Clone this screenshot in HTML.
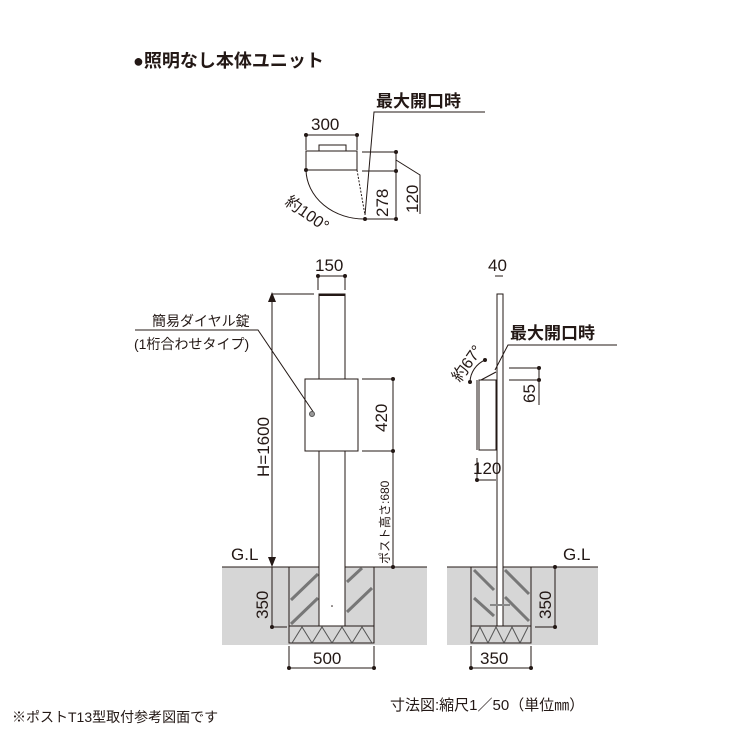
<!DOCTYPE html>
<html><head><meta charset="utf-8"><style>
html,body{margin:0;padding:0;background:#fff;}
svg{display:block;}
text{font-family:"Liberation Sans","Noto Sans CJK JP",sans-serif;fill:#231815;}
</style></head><body>
<svg width="750" height="750" viewBox="0 0 750 750" xmlns="http://www.w3.org/2000/svg">
<text x="133" y="67" font-size="18" font-weight="bold">●照明なし本体ユニット</text>

<!-- top diagram -->
<g stroke="#231815" fill="none" stroke-width="1">
<rect x="306" y="151" width="51" height="19" fill="#fff"/>
<rect x="319" y="145" width="27" height="6"/>
<line x1="306" y1="135" x2="357" y2="135"/>
<line x1="306" y1="135" x2="306" y2="150"/>
<line x1="357" y1="135" x2="357" y2="150"/>
<path d="M306 170 A58 50 0 0 0 365 219"/>
<line x1="357" y1="170" x2="365" y2="215" stroke-dasharray="2,1.5"/>
<line x1="362" y1="152" x2="396" y2="152"/>
<line x1="362" y1="171" x2="396" y2="171"/>
<line x1="365" y1="219" x2="396" y2="219"/>
<line x1="396" y1="152" x2="396" y2="219"/>
<polyline points="396,160 420,175 420,214"/>
<polyline points="485,112 374,112 365,215"/>
</g>
<g fill="#231815">
<circle cx="306" cy="135" r="2"/><circle cx="357" cy="135" r="2"/>
<circle cx="306" cy="170" r="2"/><circle cx="365" cy="219" r="2"/>
<circle cx="396" cy="152" r="2"/><circle cx="396" cy="171" r="2"/><circle cx="396" cy="219" r="2"/>
</g>
<text x="311" y="130" font-size="17">300</text>
<text x="376" y="107" font-size="17" font-weight="bold">最大開口時</text>
<text transform="translate(388,217) rotate(-90)" font-size="17">278</text>
<text transform="translate(418,213) rotate(-90)" font-size="17">120</text>
<text transform="translate(284,204) rotate(35)" font-size="16">約100°</text>

<!-- ground -->
<rect x="222" y="567" width="205" height="78" fill="#d6d6d6"/>
<rect x="447" y="567" width="151" height="78" fill="#d6d6d6"/>
<g stroke="#231815" fill="none" stroke-width="1">
<line x1="222" y1="567" x2="427" y2="567"/>
<line x1="447" y1="567" x2="598" y2="567"/>
<rect x="289" y="567" width="85" height="76"/>
<line x1="289" y1="626" x2="374" y2="626"/>
<rect x="471" y="567" width="60" height="76"/>
<line x1="471" y1="626" x2="531" y2="626"/>
</g>
<g stroke="#777" stroke-width="3">
<line x1="291" y1="600" x2="318" y2="574"/>
<line x1="291" y1="624" x2="318" y2="598"/>
<line x1="347" y1="582" x2="362" y2="568"/>
<line x1="347" y1="612" x2="372" y2="588"/>
<line x1="474" y1="570" x2="494" y2="590"/>
<line x1="474" y1="598" x2="494" y2="616"/>
<line x1="505" y1="570" x2="529" y2="594"/>
<line x1="505" y1="597" x2="529" y2="621"/>
</g>
<g stroke="#555" stroke-width="1" fill="none">
<polyline points="292,643 302,627 312,643 322,627 332,643 342,627 352,643 362,627 372,643"/>
<polyline points="472,643 480,627 488,643 496,627 504,643 512,627 520,643 528,627"/>
</g>

<!-- left post -->
<g stroke="#231815" fill="none" stroke-width="1">
<rect x="319" y="294" width="26" height="332" fill="#fff"/>
<line x1="319" y1="295" x2="345" y2="295" stroke-width="2"/>
<rect x="305" y="379" width="53" height="72" fill="#fff"/>
<line x1="318" y1="276" x2="345" y2="276"/>
<line x1="318" y1="276" x2="318" y2="290"/><line x1="345" y1="276" x2="345" y2="290"/>
<line x1="272" y1="294" x2="314" y2="294"/>
<line x1="272" y1="298" x2="272" y2="560"/>
<line x1="362" y1="379" x2="393" y2="379"/>
<line x1="362" y1="451" x2="393" y2="451"/>
<line x1="393" y1="379" x2="393" y2="567"/>
<line x1="272" y1="567" x2="272" y2="627"/>
<line x1="272" y1="627" x2="287" y2="627"/>
<line x1="289" y1="646" x2="289" y2="668"/><line x1="374" y1="646" x2="374" y2="668"/>
<line x1="289" y1="668" x2="374" y2="668"/>
<polyline points="135,330 258,330 314,413"/>
</g>
<circle cx="312" cy="414" r="2.5" fill="#999" stroke="#555"/>
<circle cx="332" cy="606" r="0.8" fill="#231815"/>
<polygon points="272,292 268,302 276,302" fill="#231815"/>
<polygon points="272,567 268,557 276,557" fill="#231815"/>
<g fill="#231815">
<circle cx="318" cy="276" r="2"/><circle cx="345" cy="276" r="2"/>
<circle cx="393" cy="379" r="2"/><circle cx="393" cy="451" r="2"/><circle cx="393" cy="567" r="2"/>
<circle cx="272" cy="627" r="2"/>
<circle cx="289" cy="668" r="2"/><circle cx="374" cy="668" r="2"/>
</g>
<text x="315" y="271" font-size="17">150</text>
<text x="152" y="326" font-size="14">簡易ダイヤル錠</text>
<text x="134" y="349" font-size="14">(1桁合わせタイプ)</text>
<text transform="translate(269,477) rotate(-90)" font-size="17">H=1600</text>
<text transform="translate(387,432) rotate(-90)" font-size="17">420</text>
<text transform="translate(389,564) rotate(-90)" font-size="12">ポスト高さ:680</text>
<text x="231" y="560" font-size="17">G.L</text>
<text transform="translate(268,619) rotate(-90)" font-size="17">350</text>
<text x="313" y="664" font-size="17">500</text>

<!-- right post -->
<g stroke="#231815" fill="none" stroke-width="1">
<rect x="497" y="294" width="6" height="332" fill="#fff"/>
<line x1="495" y1="276" x2="503" y2="276"/>
<rect x="479" y="380" width="17" height="70" fill="#fff"/>
<line x1="477" y1="380" x2="477" y2="450"/>
<line x1="481" y1="380" x2="496" y2="372"/>
<path d="M470 382 A25 25 0 0 1 485 360"/>
<line x1="509" y1="368" x2="539" y2="368"/>
<line x1="509" y1="380" x2="539" y2="380"/>
<line x1="539" y1="368" x2="539" y2="405"/>
<polyline points="617,345 508,345 495,370"/>
<line x1="477" y1="458" x2="477" y2="480"/>
<line x1="477" y1="480" x2="496" y2="480"/>
<line x1="535" y1="567" x2="555" y2="567"/>
<line x1="555" y1="567" x2="555" y2="627"/>
<line x1="535" y1="627" x2="555" y2="627"/>
<line x1="471" y1="646" x2="471" y2="668"/><line x1="531" y1="646" x2="531" y2="668"/>
<line x1="471" y1="668" x2="531" y2="668"/>
</g>
<rect x="490" y="604" width="20" height="2" fill="#888"/>
<g fill="#231815">
<circle cx="539" cy="368" r="2"/><circle cx="539" cy="380" r="2"/>
<circle cx="470" cy="382" r="2"/><circle cx="485" cy="360" r="2"/>
<circle cx="477" cy="480" r="2"/>
<circle cx="555" cy="567" r="2"/><circle cx="555" cy="627" r="2"/>
<circle cx="471" cy="668" r="2"/><circle cx="531" cy="668" r="2"/>
</g>
<text x="488" y="271" font-size="17">40</text>
<text x="510" y="339" font-size="17" font-weight="bold">最大開口時</text>
<text transform="translate(460,383) rotate(-55)" font-size="16">約67°</text>
<text transform="translate(535,403) rotate(-90)" font-size="17">65</text>
<text x="473" y="474" font-size="17">120</text>
<text x="563" y="560" font-size="17">G.L</text>
<text transform="translate(551,619) rotate(-90)" font-size="17">350</text>
<text x="480" y="664" font-size="17">350</text>

<text x="12" y="722" font-size="14">※ポストT13型取付参考図面です</text>
<text x="390" y="710" font-size="15">寸法図:縮尺1／50（単位㎜）</text>
</svg>
</body></html>
